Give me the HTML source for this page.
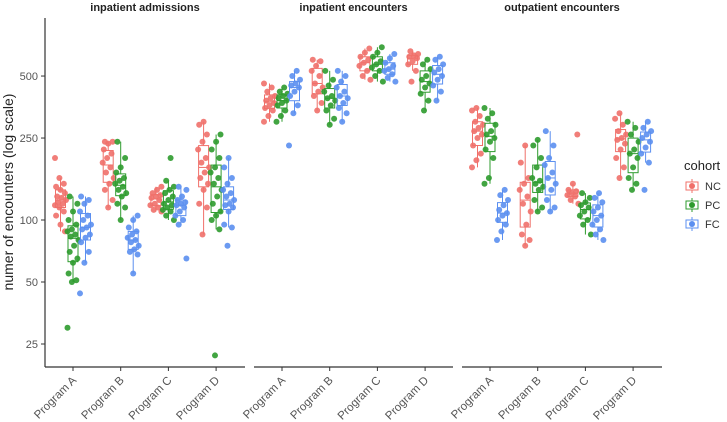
<!DOCTYPE html>
<html><head><meta charset="utf-8"><style>
html,body{margin:0;padding:0;background:#fff;}
svg{display:block;font-family:"Liberation Sans",sans-serif;}
</style></head><body>
<svg id="chart" width="727" height="422" viewBox="0 0 727 422"></svg>
<script>
const panels = ["inpatient admissions","inpatient encounters","outpatient encounters"];
const programs = ["Program A","Program B","Program C","Program D"];
const cohorts = ["NC","PC","FC"];
const colors = ["#F0706A","#2E9B2E","#5B8FF0"];
const yTicks = [25,50,100,250,500];
const admissionsA = [[200,160,150,145,140,135,130,128,125,122,120,118,115,110,105,95,88],[30,50,51,55,62,65,70,75,80,83,85,88,90,95,100,110,120,130],[44,62,70,78,82,85,90,92,95,100,105,110,120,125,130]];
const admissionsB = [[115,125,140,150,160,170,180,190,200,210,220,235,240,240],[100,115,120,130,135,140,145,150,155,160,170,180,200,240],[55,68,70,72,75,78,80,82,85,88,92,100,105]];
const admissionsC = [[110,112,115,118,120,125,128,130,132,135,140,145],[100,105,110,112,115,118,120,125,130,135,140,145,155,200],[65,95,100,105,110,115,118,120,122,125,130,140,145]];
const admissionsD = [[85,115,120,140,150,160,170,180,190,200,220,240,260,290,300],[22,90,100,105,110,120,130,140,150,160,170,180,200,220,240,260],[75,92,95,110,115,118,120,125,130,135,140,150,160,180,200]];
const inpatientA = [[300,320,340,350,360,370,380,390,400,420,440,460],[300,320,340,360,370,380,390,400,410,420,440],[230,330,360,400,420,440,450,460,480,500,530]];
const inpatientB = [[340,370,400,420,440,460,500,530,560,590,600],[290,310,340,360,380,390,400,420,450,480,530],[300,330,350,370,390,400,420,440,470,500,530]];
const inpatientC = [[480,500,530,560,580,600,620,650,680],[470,500,530,550,570,590,620,650,690],[470,490,510,530,540,560,580,610,640]];
const inpatientD = [[470,530,570,590,610,620,630,640,660],[340,380,410,440,460,480,500,540,570,600],[380,420,450,480,500,520,540,570,600,620]];
const outpatientA = [[180,195,210,230,250,260,270,280,290,300,320,340,350],[150,160,200,220,240,250,260,270,290,310,330,350],[80,88,95,100,105,108,112,118,125,132,140]];
const outpatientB = [[75,80,85,95,110,120,130,140,150,160,190,230],[110,115,125,140,145,150,155,160,180,200,230,245],[110,115,125,140,150,160,170,185,200,230,270]];
const outpatientC = [[120,125,130,132,135,138,140,150,260],[85,95,100,105,110,115,118,122,128,135],[80,85,90,95,100,105,110,115,122,128,135]];
const outpatientD = [[160,180,200,220,235,245,250,260,270,290,310,330],[140,150,160,180,200,210,220,240,260,280,300],[140,190,210,225,240,250,260,270,280,300]];
const values = [[admissionsA,admissionsB,admissionsC,admissionsD],[inpatientA,inpatientB,inpatientC,inpatientD],[outpatientA,outpatientB,outpatientC,outpatientD]];

const NS="http://www.w3.org/2000/svg";
const svg=document.getElementById('chart');
const panelX=[45,254,462], panelW=[200,199,200], plotTop=18, plotBottom=367;
function yScale(v){return 220-62*Math.log2(v/100);}
function xScale(p,i){return panelX[p]+28+47.7*i;}
function mk(tag,attrs,parent){const e=document.createElementNS(NS,tag);for(const k in attrs)e.setAttribute(k,attrs[k]);(parent||svg).appendChild(e);return e;}
function q(a,p){const s=[...a].sort((x,y)=>x-y);const h=(s.length-1)*p;const lo=Math.floor(h);return s[lo]+(s[Math.ceil(h)]-s[lo])*(h-lo);}

const yAxis=mk('g',{});


mk('line',{x1:45,y1:plotTop,x2:45,y2:plotBottom,stroke:'#333','stroke-width':1.2},yAxis);
yTicks.forEach(t=>{
  const y=yScale(t);
  mk('line',{x1:41,y1:y,x2:45,y2:y,stroke:'#333'},yAxis);
  const tx=mk('text',{x:38,y:y+4,'text-anchor':'end','font-size':11,fill:'#555'},yAxis);
  tx.textContent=t;
  
  
});
const yt=mk('text',{x:13,y:192,'text-anchor':'middle','font-size':14,fill:'#222',transform:'rotate(-90 13 192)'});
yt.textContent='numer of encounters (log scale)';



panels.forEach((pn,p)=>{
  const g=mk('g',{});
  
  
  const t=mk('text',{x:panelX[p]+panelW[p]/2,y:11,'text-anchor':'middle','font-size':11,'font-weight':'bold',fill:'#222'},g);
  t.textContent=pn;
  
  
  mk('line',{x1:panelX[p],y1:plotBottom,x2:panelX[p]+panelW[p],y2:plotBottom,stroke:'#333','stroke-width':1.2},g);
  programs.forEach((pr,i)=>{
    const cx=xScale(p,i);
    mk('line',{x1:cx,y1:plotBottom,x2:cx,y2:plotBottom+4,stroke:'#333'},g);
    const lb=mk('text',{x:cx+4,y:plotBottom+14,'text-anchor':'end','font-size':11.5,fill:'#555',transform:`rotate(-45 ${cx+4} ${plotBottom+14})`},g);
    lb.textContent=pr;
    
    
    cohorts.forEach((c,k)=>{
      const data=values[p][i][k];
      const lg=data.map(v=>Math.log(v));
      const x=cx+(k-1)*12.5, col=colors[k];
      const q1=q(lg,0.25),q3=q(lg,0.75),md=q(lg,0.5),iqr=q3-q1;
      const inr=lg.filter(v=>v>=q1-1.5*iqr&&v<=q3+1.5*iqr);
      const lo=Math.exp(Math.min(...inr)),hi=Math.exp(Math.max(...inr));
      const Q1=Math.exp(q1),Q3=Math.exp(q3),MD=Math.exp(md);
      const bg=mk('g',{},g);
      
      
      mk('line',{x1:x,y1:yScale(hi),x2:x,y2:yScale(Q3),stroke:col,'stroke-width':1},bg);
      mk('line',{x1:x,y1:yScale(Q1),x2:x,y2:yScale(lo),stroke:col,'stroke-width':1},bg);
      mk('rect',{x:x-5,y:yScale(Q3),width:10,height:Math.max(1,yScale(Q1)-yScale(Q3)),fill:'#fff','fill-opacity':0.3,stroke:col,'stroke-width':1},bg);
      mk('line',{x1:x-5,y1:yScale(MD),x2:x+5,y2:yScale(MD),stroke:col,'stroke-width':1},bg);
      data.forEach((v,j)=>{
        const jx=(((j*37+k*11+i*5)%11)-5)*1.1;
        const pt=mk('circle',{cx:x+jx,cy:yScale(v),r:3,fill:col,'fill-opacity':0.9},bg);
        
        
      });
    });
  });
});

const lgd=mk('g',{});


const lt=mk('text',{x:684,y:170,'font-size':13,fill:'#222'},lgd);
lt.textContent='cohort';


cohorts.forEach((c,k)=>{
  const y=186+k*19;
  const e=mk('g',{},lgd);
  
  
  mk('line',{x1:692,y1:y-7,x2:692,y2:y+7,stroke:colors[k]},e);
  mk('rect',{x:686,y:y-4,width:12,height:8,fill:'#fff',stroke:colors[k]},e);
  mk('circle',{cx:692,cy:y,r:3,fill:colors[k]},e);
  const tx=mk('text',{x:705,y:y+4,'font-size':11,fill:'#333'},e);
  tx.textContent=c;
});
</script>
</body></html>
